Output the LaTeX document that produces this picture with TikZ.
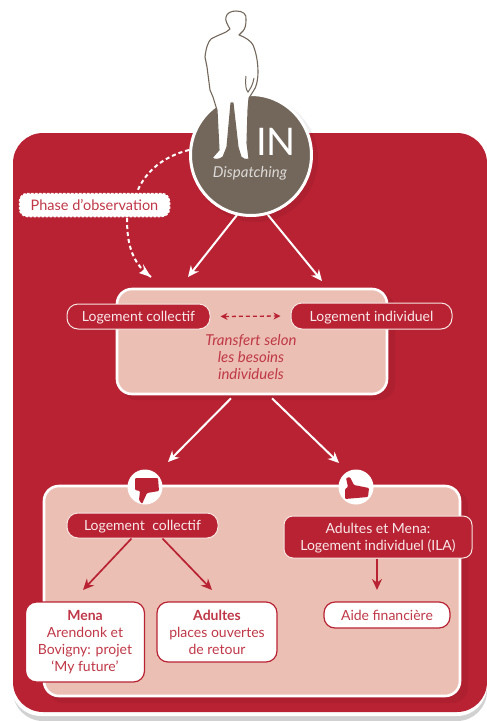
\documentclass[tikz,border=0pt]{standalone}
\usepackage{fontspec}
\setmainfont{Lato}
\usetikzlibrary{arrows.meta,calc}
\definecolor{rd}{HTML}{B92233}
\definecolor{brn}{HTML}{73675B}
\definecolor{pnk}{HTML}{EBBFB3}
\tikzset{
 x=1pt,y=-1pt,
 box/.style={rectangle,inner sep=0pt,align=center,font=\fontsize{14}{17}\selectfont},
 dark/.style={box,fill=rd,draw=pnk!40!white,line width=1pt,text=white!90!rd,rounded corners=11pt,text depth=0pt},
 light/.style={box,fill=white,draw=rd,line width=1.2pt,text=rd!90!white,rounded corners=11pt},
 panel/.style={rectangle,fill=pnk,draw=white,line width=2.6pt,rounded corners=15pt,inner sep=0pt},
 whitearrow/.style={draw=white,line width=2pt,-{Stealth[length=11pt,width=10pt]}},
 redarrow/.style={draw=rd,line width=1.7pt,-{Stealth[length=11pt,width=10pt]}},
 whitedash/.style={draw=white,line width=2pt,dash pattern=on 4pt off 3pt},
 soft/.style={fill=black,opacity=0.06},
}
\begin{document}
\begin{tikzpicture}
\useasboundingbox (0,0) rectangle (487,721);
\fill[white] (0,0) rectangle (487,721);
% big panel
\fill[black!18,rounded corners=30pt] (13,160) rectangle (487,721);
\fill[white,rounded corners=30pt] (11,135) rectangle (487,716);
\fill[rd,rounded corners=30pt] (13,133) rectangle (487,712);
% soft shadows
\fill[soft,rounded corners=16pt] (121,293) rectangle (395,400);
\fill[soft,rounded corners=16pt] (48,490) rectangle (468,703);
\fill[soft] (255,159) circle (63);
% IN circle
\node[circle,fill=brn,draw=white,line width=3pt,minimum size=121pt,inner sep=0pt] (inc) at (251,155) {};
% silhouette
\draw[fill=white,draw=brn,line width=1.1pt,line join=round]
 (236,11) .. controls (243,11) and (247,14) .. (246,20)
 .. controls (246,25) and (245,29) .. (243,31)
 -- (239,35) .. controls (245,37) and (251,41) .. (253,45)
 .. controls (256,52) and (258,62) .. (258,72) .. controls (258,80) and (256,88) .. (254,90)
 -- (249,98) -- (248,110) -- (247,143) -- (249,159) .. controls (245,160) and (243,159) .. (241,157)
 -- (238,147) -- (233,103) -- (231,103) -- (227,147) -- (223,157) .. controls (219,160) and (215,160) .. (212,158)
 -- (219,150) -- (217,110) -- (213,97) -- (210,90) -- (207,67) -- (205,57)
 .. controls (206,48) and (208,42) .. (211,39) .. controls (216,36) and (222,34) .. (226,32)
 -- (230,29) .. controls (227,24) and (225,20) .. (226,17) .. controls (227,13) and (231,11) .. (236,11) -- cycle;
\draw[brn,line width=1pt] (246,76) .. controls (245,85) and (246,90) .. (248,92) .. controls (251,88) and (253,84) .. (254,78);
\node[font=\fontsize{38}{38}\selectfont,text=white,inner sep=0pt] (intext) at (276,142) {IN};
\node[font=\fontsize{15}{17}\selectfont\itshape,text=white!75!brn,inner sep=0pt] (disp) at (250,173) {Dispatching};
% phase pill
\node[box,fill=white,draw=white,line width=1.5pt,dash pattern=on 2.5pt off 1.5pt,minimum width=150pt,minimum height=23pt,rounded corners=8pt,text=rd!90!white,text depth=0pt,font=\fontsize{14.5}{17}\selectfont] (phase) at (94.5,205) {Phase d'observation};
\coordinate (p1) at (137,192);
\coordinate (p2) at (127,218);
\coordinate (p3) at (151,277);
\draw[whitedash] (inc.west|-0,150) .. controls (165,156) and (146,170) .. (p1);
\draw[whitedash] (p2) .. controls (127,240) and (130,262) .. (p3);
\fill[white] (p3) -- (139,273) -- (144,270) -- (143,264) -- cycle;
% first panel
\node[panel,minimum width=270pt,minimum height=105pt] (pa) at (252,341.5) {};
\node[dark,minimum width=143pt,minimum height=25pt] (lc) at (138.5,316.5) {Logement collectif};
\node[dark,minimum width=161pt,minimum height=26pt] (li) at (371.5,316) {Logement individuel};
\draw[rd,line width=1.3pt,dash pattern=on 4pt off 3pt,{Stealth[length=7pt,width=7pt]}-{Stealth[length=7pt,width=7pt]}] ([xshift=10pt]lc.east) -- ([xshift=-10pt]li.west);
\node[box,text=rd!90!white,font=\fontsize{15}{17}\selectfont\itshape] (tr) at (251,357) {Transfert selon\\les besoins\\individuels};
% second panel
\node[panel,minimum width=416pt,minimum height=210pt] (pb) at (252,591) {};
\draw[whitearrow] ($(inc.center)+(-14,60)$) -- (188,277);
\draw[whitearrow] ($(inc.center)+(17,60)$) -- (322,281);
\draw[whitearrow] ($(pa.south)+(-21,3)$) -- (168,462);
\draw[whitearrow] ($(pa.south)+(20,3)$) -- (339,463);
% thumbs
\node[circle,fill=white,minimum size=35pt,inner sep=0pt] (bd) at (145,487) {};
\node[circle,fill=white,minimum size=35pt,inner sep=0pt] (bu) at (356,487) {};
\fill[rd,rounded corners=1pt] (135,478) -- (158,478) -- (159,491) -- (147,493) -- (142,504) -- (139,500) -- (140,491) -- (135,490) -- cycle;
\fill[rd,rounded corners=1pt] (345,499) -- (368,497) -- (369,488) -- (354,485) -- (350,477) -- (346,478) -- (348,487) -- (345,489) -- cycle;
% lower nodes
\node[dark,minimum width=151pt,minimum height=25pt] (lc2) at (142.5,525.5) {Logement\; collectif};
\node[dark,minimum width=188pt,minimum height=42pt,rounded corners=9pt] (ad) at (378,537) {Adultes et Mena:\\Logement individuel (ILA)};
\node[light,minimum width=119pt,minimum height=80pt] (mena) at (85,642) {\textbf{Mena}\\Arendonk et\\Bovigny: projet\\`My future'};
\node[light,minimum width=120pt,minimum height=60pt] (adu) at (217,632) {\textbf{Adultes}\\places ouvertes\\de retour};
\node[light,text depth=0pt,minimum width=126pt,minimum height=26pt] (aide) at (387,615) {Aide financière};
\draw[redarrow] ([xshift=-11pt]lc2.south) -- (83,590);
\draw[redarrow] ([xshift=20pt]lc2.south) -- (212,590);
\draw[redarrow] (ad.south-|377,0) -- (377,590);
\end{tikzpicture}
\end{document}
